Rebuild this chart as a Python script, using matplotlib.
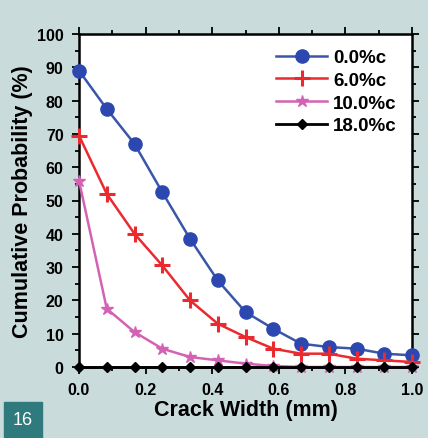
import matplotlib
matplotlib.use("Agg")
import matplotlib.pyplot as plt
from matplotlib.ticker import MultipleLocator
import matplotlib.patches as mpatches

plt.rcParams['font.family'] = ['Liberation Sans', 'DejaVu Sans']
plt.rcParams['font.weight'] = 'bold'

crack_width = [0.0, 1/12, 2/12, 3/12, 4/12, 5/12, 6/12, 7/12, 8/12, 9/12, 10/12, 11/12, 1.0]
c00 = [89, 77.5, 67, 52.5, 38.5, 26, 16.5, 11.5, 7, 6, 5.5, 4, 3.5]
c06 = [69.5, 52, 40, 30.5, 20, 13, 9, 5.5, 4, 4, 2.5, 2, 1.5]
c10 = [56, 17.5, 10.5, 5.5, 3, 2, 1, 0.3, 0, 0, 0, 0, 0]
c18 = [0, 0, 0, 0, 0, 0, 0, 0, 0, 0, 0, 0, 0]
labels = ["0.0%c", "6.0%c", "10.0%c", "18.0%c"]

bg = "#c9dcdb"
fig = plt.figure(figsize=(4.28, 4.39), dpi=100, facecolor=bg)
ax = fig.add_axes([79/428, 1-368/439, (412-79)/428, (368-35)/439])
ax.set_facecolor("white")

ax.plot(crack_width, c00, color="#3a56a8", lw=1.8, marker="o", ms=9.5,
        mfc="#2c48b0", mec="#2c48b0", label=labels[0], clip_on=False, zorder=3)
ax.plot(crack_width, c06, color="#ea2a2e", lw=1.8, marker="+", ms=11, mew=2.2,
        label=labels[1], clip_on=False, zorder=4)
ax.plot(crack_width, c10, color="#d462b4", lw=1.8, marker="*", ms=9,
        label=labels[2], clip_on=False, zorder=5)
ax.plot(crack_width, c18, color="black", lw=2, marker="D", ms=5.5,
        label=labels[3], clip_on=False, zorder=6)

ax.set_xlim(0, 1.0)
ax.set_ylim(0, 100)
ax.xaxis.set_major_locator(MultipleLocator(0.2))
ax.xaxis.set_minor_locator(MultipleLocator(0.1))
ax.yaxis.set_major_locator(MultipleLocator(10))
ax.yaxis.set_minor_locator(MultipleLocator(5))
ax.tick_params(which="both", direction="out", top=True, right=True,
               labeltop=False, labelright=False, width=1.3)
ax.tick_params(which="major", length=5, labelsize=11.5)
ax.tick_params(axis="x", which="major", pad=6)
ax.tick_params(axis="y", which="major", pad=6)
ax.tick_params(which="minor", length=3)
for s in ax.spines.values():
    s.set_linewidth(1.8)
ax.set_xticks([0.0, 0.2, 0.4, 0.6, 0.8, 1.0])
ax.set_xticklabels(["0.0", "0.2", "0.4", "0.6", "0.8", "1.0"], fontweight="bold")
ax.set_yticks(range(0, 101, 10))
ax.set_yticklabels([str(v) for v in range(0, 101, 10)], fontweight="bold")

ax.set_xlabel("Crack Width (mm)", fontsize=15.5, fontweight="bold", labelpad=1)
ax.set_ylabel("Cumulative Probability (%)", fontsize=15.5, fontweight="bold", labelpad=3)

leg = ax.legend(loc="upper right", frameon=False, fontsize=13.5,
                handlelength=2.7, handletextpad=0.35, labelspacing=0.3,
                borderaxespad=0.5, borderpad=0.3)
for t in leg.get_texts():
    t.set_fontweight("bold")

fig.patches.append(mpatches.Rectangle((4/428, 0), 38/428, 36/439,
                                      transform=fig.transFigure, color="#2f7a7c"))
fig.text(23/428, 18/439, "16", color="white", fontsize=13, fontweight="normal",
         ha="center", va="center")

fig.savefig("out.png", dpi=100, facecolor=bg)
